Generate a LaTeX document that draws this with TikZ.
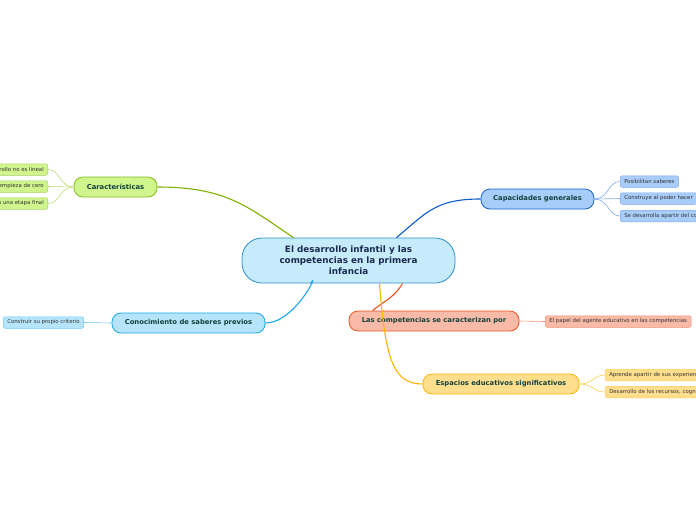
\documentclass[tikz,border=0pt]{standalone}
\usepackage{fontspec}
\setmainfont{DejaVu Sans}
\usetikzlibrary{calc}
\definecolor{ctrfill}{HTML}{C6EBFB}
\definecolor{ctrdraw}{HTML}{2A8FD0}
\definecolor{ctrtext}{HTML}{1B2A4E}
\definecolor{brtext}{HTML}{12403C}
\definecolor{gfill}{HTML}{CFF58C}
\definecolor{gdraw}{HTML}{86BC1E}
\definecolor{gline}{HTML}{7FB000}
\definecolor{glight}{HTML}{B8DC70}
\definecolor{bfill}{HTML}{A9CDFA}
\definecolor{bdraw}{HTML}{1565C8}
\definecolor{bline}{HTML}{0D5ACD}
\definecolor{blight}{HTML}{7FA9EC}
\definecolor{cfill}{HTML}{B6E5FB}
\definecolor{cdraw}{HTML}{1AA8EE}
\definecolor{clight}{HTML}{6CCAF5}
\definecolor{rfill}{HTML}{F9BBA7}
\definecolor{rdraw}{HTML}{E9541E}
\definecolor{rlight}{HTML}{F19075}
\definecolor{yfill}{HTML}{FFDF8E}
\definecolor{ydraw}{HTML}{FFB400}
\definecolor{ylight}{HTML}{FFCC55}
\tikzset{
  ctrbox/.style={draw=ctrdraw, fill=ctrfill, line width=0.8pt, rounded corners=20pt,
    minimum width=213pt, minimum height=45pt, inner sep=0pt, align=center,
    font=\fontsize{8.8}{11}\selectfont\bfseries, text=ctrtext},
  brbox/.style={line width=0.8pt, rounded corners=9pt, minimum height=20pt, inner sep=0pt,
    font=\fontsize{6.8}{8}\selectfont\bfseries, text=brtext},
  leafbox/.style={line width=0.5pt, rounded corners=2pt, minimum height=11.5pt, inner xsep=4pt, inner ysep=0pt,
    font=\fontsize{5.4}{6}\selectfont, text=black!80},
  mainline/.style={line width=1.1pt},
  leafline/.style={line width=0.6pt}
}
\begin{document}
\begin{tikzpicture}[x=1pt,y=-1pt]
\useasboundingbox (0,0) rectangle (696,520);
\clip (0,0) rectangle (696,520);
% branch nodes
\node[ctrbox] (ctr) at (348.5,260.5) {El desarrollo infantil y las\\competencias en la primera\\infancia};
\node[brbox, draw=gdraw, fill=gfill, minimum width=83pt] (car) at (115.5,187) {Características};
\node[brbox, draw=bdraw, fill=bfill, minimum width=113pt] (cap) at (537.5,199) {Capacidades generales};
\node[brbox, draw=cdraw, fill=cfill, minimum width=153pt] (con) at (188.5,323) {Conocimiento de saberes previos};
\node[brbox, draw=rdraw, fill=rfill, minimum width=170pt] (com) at (434,321) {Las competencias se caracterizan por};
\node[brbox, draw=ydraw, fill=yfill, minimum width=156pt] (esp) at (501,384) {Espacios educativos significativos};
% leaves
\node[leafbox, draw=gdraw!70, fill=gfill, anchor=east] (g1) at (48,169.5) {El desarrollo no es lineal};
\node[leafbox, draw=gdraw!70, fill=gfill, anchor=east] (g2) at (48,186.5) {No empieza de cero};
\node[leafbox, draw=gdraw!70, fill=gfill, anchor=east] (g3) at (48,203.5) {No es una etapa final};
\node[leafbox, draw=blight, fill=bfill, anchor=west] (b1) at (620,181.5) {Posibilitan saberes};
\node[leafbox, draw=blight, fill=bfill, anchor=west] (b2) at (620,198.5) {Construye al poder hacer};
\node[leafbox, draw=blight, fill=bfill, anchor=west] (b3) at (620,216) {Se desarrolla apartir del contexto};
\node[leafbox, draw=clight, fill=cfill, anchor=west] (c1) at (3,322.5) {Construir su propio criterio};
\node[leafbox, draw=rlight, fill=rfill, anchor=west] (r1) at (545,321.5) {El papel del agente educativo en las competencias};
\node[leafbox, draw=ylight, fill=yfill, anchor=west] (y1) at (605,375) {Aprende apartir de sus experiencias};
\node[leafbox, draw=ylight, fill=yfill, anchor=west] (y2) at (605,392) {Desarrollo de los recursos, cognitivos};
% main connectors
\draw[mainline, gline] (car.east) .. controls +(70,0) and +(-45,-30) .. ($(ctr.north)+(-55,0)$);
\draw[mainline, bline] (cap.west) .. controls +(-45,0) and +(30,-25) .. ($(ctr.north)+(48,0)$);
\draw[mainline, cdraw] (con.east) .. controls +(30,0) and +(10,-15) .. ($(ctr.south)+(-38,0)$);
\draw[mainline, rdraw] ($(ctr.south)+(54,0)$) .. controls +(-8,14) and +(12,-10) .. ($(com.north west)+(24,0)$);
\draw[mainline, ydraw] ($(ctr.south)+(31,0)$) .. controls +(6,75) and +(-30,0) .. (esp.west);
% leaf connectors
\draw[leafline, glight] (car.west) .. controls +(-14,0) and +(12,0) .. (g1.east);
\draw[leafline, glight] (car.west) -- (g2.east);
\draw[leafline, glight] (car.west) .. controls +(-14,0) and +(12,0) .. (g3.east);
\draw[leafline, blight] (cap.east) .. controls +(14,0) and +(-12,0) .. (b1.west);
\draw[leafline, blight] (cap.east) -- (b2.west);
\draw[leafline, blight] (cap.east) .. controls +(14,0) and +(-12,0) .. (b3.west);
\draw[leafline, clight] (con.west) -- (c1.east);
\draw[leafline, rlight] (com.east) -- (r1.west);
\draw[leafline, ylight] (esp.east) .. controls +(14,0) and +(-12,0) .. (y1.west);
\draw[leafline, ylight] (esp.east) .. controls +(14,0) and +(-12,0) .. (y2.west);
\end{tikzpicture}
\end{document}
